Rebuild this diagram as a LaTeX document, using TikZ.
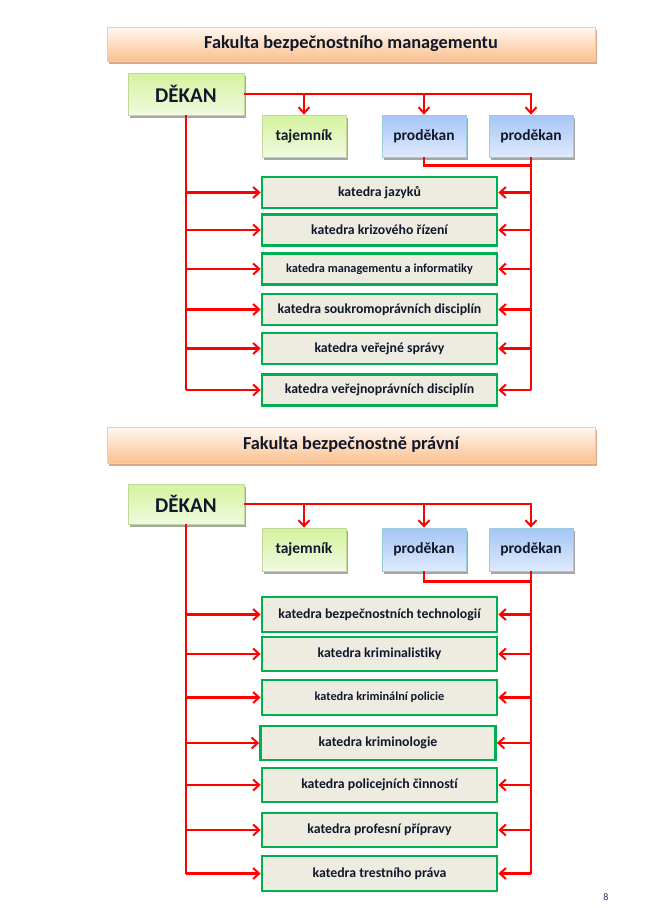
\documentclass[tikz,border=0pt]{standalone}
\usepackage{fontspec}
\setmainfont{Carlito}[Ligatures=NoCommon]
\usetikzlibrary{arrows.meta,shadows}
\definecolor{kgreen}{HTML}{00B050}
\definecolor{kfill}{HTML}{EEECE1}
\definecolor{hdrbot}{HTML}{FAC08F}
\definecolor{hdrtop}{HTML}{FFF8F2}
\definecolor{hdrborder}{HTML}{F2CDB0}
\definecolor{hdrshadow}{HTML}{D9A888}
\definecolor{dektop}{HTML}{D5F39D}
\definecolor{dekbot}{HTML}{F0FAE0}
\definecolor{dekborder}{HTML}{C4D79B}
\definecolor{protop}{HTML}{A6C5F6}
\definecolor{probot}{HTML}{DEEAFC}
\definecolor{proborder}{HTML}{9ACDDB}
\definecolor{shad}{HTML}{A6A6A6}
\definecolor{txt}{HTML}{10182B}
\definecolor{rline}{HTML}{FF0000}
\definecolor{pnum}{HTML}{1F3864}
\tikzset{
  hdr/.style={minimum width=488pt, minimum height=34pt, inner sep=0pt,
    top color=hdrtop, bottom color=hdrbot, draw=hdrborder, line width=0.6pt,
    text=txt, font=\bfseries\fontsize{18.3}{21}\selectfont,
    drop shadow={shadow xshift=1.5pt, shadow yshift=-2.5pt, fill=hdrshadow, opacity=1}},
  topbox/.style={inner sep=0pt, line width=0.8pt, text=txt,
    drop shadow={shadow xshift=2pt, shadow yshift=-2.5pt, fill=shad, opacity=1}},
  dek/.style={topbox, minimum width=116pt, minimum height=42pt,
    top color=dektop, bottom color=dekbot, draw=dekborder,
    font=\bfseries\fontsize{21}{24}\selectfont},
  taj/.style={topbox, minimum width=84pt, minimum height=42pt,
    top color=dektop, bottom color=dekbot, draw=dekborder,
    font=\bfseries\fontsize{15.5}{18}\selectfont},
  pro/.style={topbox, minimum width=84pt, minimum height=42pt,
    top color=protop, bottom color=probot, draw=proborder,
    font=\bfseries\fontsize{15.5}{18}\selectfont},
  kat/.style={minimum width=235pt, minimum height=31pt, inner sep=0pt,
    fill=kfill, draw=kgreen, line width=2.8pt, text=txt,
    font=\bfseries\fontsize{13.8}{16}\selectfont},
  katsm/.style={kat, font=\bfseries\fontsize{12.3}{15}\selectfont},
  rl/.style={draw=rline, line width=2.5pt},
  ra/.style={rl, -{Straight Barb[length=6pt,width=11pt,line width=2pt]}},
}
\begin{document}
\begin{tikzpicture}[x=1pt,y=-1pt]
\useasboundingbox[fill=white] (0,0) rectangle (667,908);

% ---------- section 1 ----------
\node[hdr] (h1) at (351,44) {Fakulta bezpečnostního managementu};
\node[dek] (d1) at (186,94) {DĚKAN};
\node[taj] (t1) at (304,136) {tajemník};
\node[pro] (p1a) at (424,136) {proděkan};
\node[pro] (p1b) at (531,136) {proděkan};

\node[kat] (k11) at (379.5,192.5) {katedra jazyků};
\node[kat] (k12) at (379.5,230) {katedra krizového řízení};
\node[katsm] (k13) at (379.5,269) {katedra managementu a informatiky};
\node[kat] (k14) at (379.5,309.5) {katedra soukromoprávních disciplín};
\node[kat] (k15) at (379.5,348.5) {katedra veřejné správy};
\node[kat] (k16) at (379.5,390) {katedra veřejnoprávních disciplín};

\draw[ra] (d1.east) -| (p1b.north);
\draw[ra] (d1.east -| t1.north) -- (t1.north);
\draw[ra] (d1.east -| p1a.north) -- (p1a.north);
\draw[rl] (p1a.south) -- ++(0,8) -| (p1b.south);
\draw[rl] (p1b.south) -- (p1b.south |- k16.east);
\draw[rl] (d1.south) -- (d1.south |- k16.west);
\foreach \k in {k11,k12,k13,k14,k15,k16}{
  \draw[ra] (p1b.south |- \k.east) -- (\k.east);
  \draw[ra] (d1.south |- \k.west) -- (\k.west);
}

% ---------- section 2 ----------
\node[hdr, minimum height=36pt] (h2) at (351,445) {Fakulta bezpečnostně právní};
\node[dek, minimum height=40pt] (d2) at (186,504) {DĚKAN};
\node[taj, minimum height=43pt] (t2) at (304,549.5) {tajemník};
\node[pro, minimum height=43pt] (p2a) at (424,549.5) {proděkan};
\node[pro, minimum height=43pt] (p2b) at (531,549.5) {proděkan};

\node[kat, minimum height=35pt] (k21) at (379.5,614.5) {katedra bezpečnostních technologií};
\node[kat, minimum height=34pt] (k22) at (379.5,654) {katedra kriminalistiky};
\node[katsm, minimum height=35pt] (k23) at (379.5,697.5) {katedra kriminální policie};
\node[kat, minimum height=34pt] (k24) at (378,743) {katedra kriminologie};
\node[kat, minimum height=34pt] (k25) at (379.5,785) {katedra policejních činností};
\node[kat, minimum height=34pt] (k26) at (379.5,830) {katedra profesní přípravy};
\node[kat, minimum height=35pt] (k27) at (379.5,873.5) {katedra trestního práva};

\draw[ra] (d2.east) -| (p2b.north);
\draw[ra] (d2.east -| t2.north) -- (t2.north);
\draw[ra] (d2.east -| p2a.north) -- (p2a.north);
\draw[rl] (p2a.south) -- ++(0,10) -| (p2b.south);
\draw[rl] (p2b.south) -- (p2b.south |- k27.east);
\draw[rl] (d2.south) -- (d2.south |- k27.west);
\foreach \k in {k21,k22,k23,k24,k25,k26,k27}{
  \draw[ra] (p2b.south |- \k.east) -- (\k.east);
  \draw[ra] (d2.south |- \k.west) -- (\k.west);
}

\node[text=pnum, font=\fontsize{10}{12}\selectfont, inner sep=0pt] (pg) at (606,897) {8};
\end{tikzpicture}
\end{document}
